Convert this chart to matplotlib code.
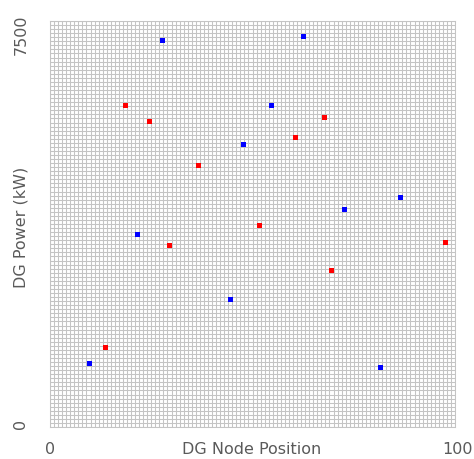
import numpy as np
import matplotlib.pyplot as plt

# DG 节点位置与功率 (两组)
red_pos = [18.5, 24.5, 36.6, 29.5, 13.6, 51.6, 60.5, 67.7, 69.5, 97.5]
red_kw = [5954, 5658, 4840, 3357, 1483, 3726, 5363, 5732, 2906, 3423]
blue_pos = [27.6, 62.5, 54.6, 47.6, 21.6, 72.5, 86.5, 44.5, 9.6, 81.6]
blue_kw = [7155, 7229, 5954, 5222, 3571, 4022, 4249, 2370, 1182, 1103]

x_max = 100
y_max = 7500

fig = plt.figure(figsize=(4.74, 4.60), dpi=100)
ax = fig.add_axes([50 / 474, 32 / 460, 405 / 474, 406 / 460])

ax.set_xlim(0, x_max)
ax.set_ylim(0, y_max)

# 密集网格: x 每 1, y 每 75
ax.set_xticks(np.arange(0, x_max + 1, 1))
ax.set_yticks(np.arange(0, y_max + 1, 75))
ax.tick_params(length=0, labelbottom=False, labelleft=False)
ax.grid(True, color='#c4c4c4', linewidth=0.75)
ax.set_axisbelow(True)
for s in ax.spines.values():
    s.set_color('#c4c4c4')
    s.set_linewidth(0.75)

ax.plot(red_pos, red_kw, 's', color='#ff0000', ms=3.6, mew=0, linestyle='none')
ax.plot(blue_pos, blue_kw, 's', color='#0000ff', ms=3.6, mew=0, linestyle='none')

# 轴端标签
tc = '#5a5a5a'
fs = 11.5
fig.text(21 / 474, (460 - 35) / 460, str(y_max), rotation=90, ha='center', va='center', color=tc, fontsize=fs)
fig.text(21 / 474, (460 - 424) / 460, '0', rotation=90, ha='center', va='center', color=tc, fontsize=fs)
fig.text(21 / 474, (460 - 227) / 460, 'DG Power (kW)', rotation=90, ha='center', va='center', color=tc, fontsize=fs)
fig.text(50 / 474, 10 / 460, '0', ha='center', va='center', color=tc, fontsize=fs)
fig.text(457 / 474, 10 / 460, str(x_max), ha='center', va='center', color=tc, fontsize=fs)
fig.text(252 / 474, 10 / 460, 'DG Node Position', ha='center', va='center', color=tc, fontsize=fs)

fig.savefig('out.png', dpi=100)
